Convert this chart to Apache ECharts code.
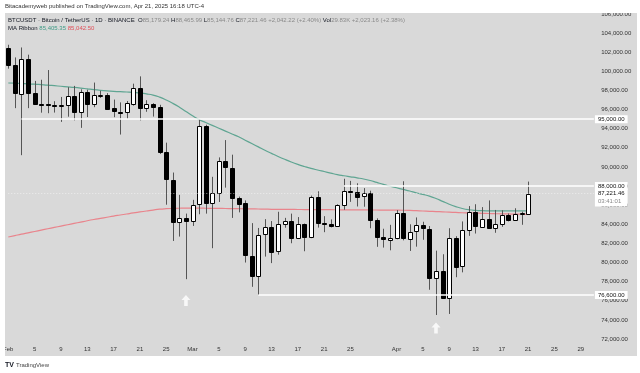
<!DOCTYPE html>
<html><head><meta charset="utf-8">
<script src="https://cdn.jsdelivr.net/npm/echarts@6/dist/echarts.min.js"></script>
<style>html,body{margin:0;padding:0;background:#fff}#c{width:640px;height:373px}</style>
</head><body><div id="c"></div>
<script>
// axis categories (days)
const categories = [
'2025-02-01','2025-02-02','2025-02-03','2025-02-04','2025-02-05','2025-02-06','2025-02-07','2025-02-08','2025-02-09','2025-02-10',
'2025-02-11','2025-02-12','2025-02-13','2025-02-14','2025-02-15','2025-02-16','2025-02-17','2025-02-18','2025-02-19','2025-02-20',
'2025-02-21','2025-02-22','2025-02-23','2025-02-24','2025-02-25','2025-02-26','2025-02-27','2025-02-28',
'2025-03-01','2025-03-02','2025-03-03','2025-03-04','2025-03-05','2025-03-06','2025-03-07','2025-03-08','2025-03-09','2025-03-10',
'2025-03-11','2025-03-12','2025-03-13','2025-03-14','2025-03-15','2025-03-16','2025-03-17','2025-03-18','2025-03-19','2025-03-20',
'2025-03-21','2025-03-22','2025-03-23','2025-03-24','2025-03-25','2025-03-26','2025-03-27','2025-03-28','2025-03-29','2025-03-30','2025-03-31',
'2025-04-01','2025-04-02','2025-04-03','2025-04-04','2025-04-05','2025-04-06','2025-04-07','2025-04-08','2025-04-09','2025-04-10',
'2025-04-11','2025-04-12','2025-04-13','2025-04-14','2025-04-15','2025-04-16','2025-04-17','2025-04-18','2025-04-19','2025-04-20',
'2025-04-21','2025-04-22','2025-04-23','2025-04-24','2025-04-25','2025-04-26','2025-04-27','2025-04-28','2025-04-29','2025-04-30','2025-05-01'];

const openP = [102429,100635,97700,101328,97763,96612,96554,96506,96444,96462,97430,95778,97869,96608,97500,97569,96118,95780,95671,96644,98305,96181,96554,96258,91552,88680,84250,84708,
84349,86064,94270,86221,87281,90606,89931,86801,86222,80735,78596,82932,83680,81116,83984,84343,82580,84075,82718,86855,84167,84043,83832,86055,87498,87392,86909,87232,84424,82649,82390,
82550,85158,82516,83213,83890,83537,78430,79163,76322,82615,79607,83424,85276,83760,84591,83643,84030,84947,84474,85057,85179];
const closeP = [100635,97700,101328,97763,96612,96554,96506,96444,96462,97430,95778,97869,96608,97500,97569,96118,95780,95671,96644,98305,96181,96554,96258,91552,88680,84250,84708,84349,
86064,94270,86221,87281,90606,89931,86801,86222,80734,78595,82932,83680,81116,83984,84343,82579,84075,82718,86854,84167,84043,83832,86054,87498,87392,86909,87232,84424,82649,82389,82550,
85158,82516,83213,83889,83537,78430,79163,76322,82615,79607,83423,85276,83760,84591,83643,84030,84947,84474,85057,85179,87221];
const highP = [102783,101456,102500,101744,99000,99120,100137,96880,97323,98345,98478,98119,98076,98826,97972,97725,97046,96753,96899,98711,99475,96980,96670,96500,92540,89414,87078,85120,
86558,95000,94416,88967,91000,92810,91283,86897,86500,84123,83617,84539,84336,85310,84672,85117,84756,84075,87000,87453,84850,84513,86094,88765,88542,88292,87786,87515,84624,83534,83943,
85487,88500,83998,84720,84266,83817,81243,80867,83588,82753,84300,85905,86100,85799,86496,85500,85470,85132,85677,85320,88466];
const lowP = [100279,96150,91231,96150,96587,95676,95620,95688,94713,95256,94876,94088,95217,96252,97223,96055,95205,93388,95029,96415,94871,95770,95270,91350,86050,82256,82716,78258,
83825,85050,85117,81500,86334,87836,84667,85248,80000,77459,76606,80620,79939,80822,83639,82018,82457,81179,82547,83655,83175,83675,83794,85519,86346,85862,85837,83585,81644,81565,81279,
82432,82320,81211,81659,82379,77153,74508,76239,74620,78464,78972,82792,83035,83678,83600,83111,83736,84303,84418,83949,85145];

// MA ribbon lines
const maFast = [98780,98760,98730,98700,98660,98610,98560,98500,98440,98380,98320,98250,98170,98090,98020,97960,97910,97870,97840,97800,97730,97640,97520,97300,97000,96650,96250,95800,
95350,94950,94650,94350,94050,93750,93450,93150,92800,92450,92100,91750,91420,91100,90800,90520,90270,90050,89850,89680,89520,89360,89200,89080,88970,88860,88740,88580,88380,88180,87990,
87820,87650,87480,87300,87130,86950,86700,86400,86100,85850,85650,85520,85450,85420,85410,85400,85400,85400,85400,85405,85405];
const maSlow = [82670,82820,82970,83110,83250,83390,83530,83670,83810,83950,84090,84230,84370,84500,84620,84740,84860,84970,85080,85190,85290,85390,85490,85580,85630,85660,85680,85690,
85690,85690,85680,85670,85660,85650,85640,85630,85620,85610,85600,85590,85570,85565,85560,85555,85550,85545,85540,85535,85530,85525,85520,85515,85510,85505,85500,85500,85495,85490,85485,
85480,85470,85450,85420,85390,85360,85330,85300,85270,85240,85210,85190,85170,85150,85130,85110,85095,85080,85065,85050,85042];

// drawn levels
const levelPrices = [95000, 88000, 76600];
const levelStarts = ['2025-02-03', '2025-03-24', '2025-03-11'];
const lastPrice = 87221.46;
const countdown = '03:41:01';

// arrows
const arrowDates = ['2025-02-28', '2025-04-07'];
const arrowPrices = [76030, 73150];

// time axis tick labels
const xTickDays = ['2025-02-01','2025-02-05','2025-02-09','2025-02-13','2025-02-17','2025-02-21','2025-02-25',
'2025-03-01','2025-03-05','2025-03-09','2025-03-13','2025-03-17','2025-03-21','2025-03-25',
'2025-04-01','2025-04-05','2025-04-09','2025-04-13','2025-04-17','2025-04-21','2025-04-25','2025-04-29'];
const xTickText = ['Feb','5','9','13','17','21','25','Mar','5','9','13','17','21','25','Apr','5','9','13','17','21','25','29'];

function fmt(v){
  const s = Number(v).toFixed(2).split('.');
  return s[0].replace(/\B(?=(\d{3})+$)/g, ',') + '.' + s[1];
}

const FONT = 'Liberation Sans';
const candleData = closeP.map((c, i) => [categories[i], openP[i], c, lowP[i], highP[i]]);
const lastDay = categories[categories.length - 1];

const levelLines = levelPrices.map((p, i) => [
  {coord: [levelStarts[i], p]},
  {coord: [lastDay, p], label: {formatter: fmt(p)}}
]);
levelLines.push([
  {coord: [categories[0], lastPrice], lineStyle: {color: 'rgba(255,255,255,0.55)', width: 1, type: [1, 2]}},
  {coord: [lastDay, lastPrice], label: {formatter: '{a|' + fmt(lastPrice) + '}\n{b|' + countdown + '}', offset: [0, 4]}}
]);

const chart = echarts.init(document.getElementById('c'), null, {renderer: 'canvas'});
chart.setOption({
  animation: false,
  backgroundColor: '#ffffff',
  textStyle: {fontFamily: FONT},
  grid: {left: 5, top: 14, width: 592.2, height: 325},
  xAxis: {
    type: 'category', data: categories, boundaryGap: true,
    axisLine: {show: false}, axisTick: {show: false}, splitLine: {show: false},
    axisLabel: {
      interval: (idx, val) => xTickDays.indexOf(val) >= 0,
      formatter: (val) => xTickText[xTickDays.indexOf(val)] || '',
      fontSize: 6, color: '#333', margin: 7, fontFamily: FONT, hideOverlap: false
    }
  },
  yAxis: {
    type: 'value', position: 'right', min: 72000, max: 106000, interval: 2000, scale: true,
    axisLine: {show: false}, axisTick: {show: false}, splitLine: {show: false},
    axisLabel: {formatter: fmt, fontSize: 6, color: '#333', margin: 4, fontFamily: FONT}
  },
  series: [
    {type: 'line', data: maSlow, smooth: true, showSymbol: false, z: 1,
     lineStyle: {color: '#e9848c', width: 1.2}},
    {type: 'line', data: maFast, smooth: true, showSymbol: false, z: 1,
     lineStyle: {color: '#5fa592', width: 1.2}},
    {type: 'custom', z: 3, data: candleData,
     encode: {x: 0, y: [1, 2, 3, 4]},
     renderItem: function (params, api) {
       const x = api.value(0);
       const o = api.value(1), c = api.value(2), l = api.value(3), h = api.value(4);
       const ph = api.coord([x, h]), pl = api.coord([x, l]);
       const po = api.coord([x, o]), pc = api.coord([x, c]);
       const cx = Math.round(ph[0]);
       const up = c >= o;
       const top = Math.min(po[1], pc[1]), bot = Math.max(po[1], pc[1]);
       return {type: 'group', children: [
         {type: 'line', shape: {x1: cx + 0.5, y1: ph[1], x2: cx + 0.5, y2: pl[1]}, style: {stroke: '#555', lineWidth: 1}},
         {type: 'rect', shape: {x: cx - 1.5, y: Math.round(top) + 0.5, width: 4, height: Math.max(Math.round(bot - top), 1)},
          style: {fill: up ? '#ffffff' : '#000000', stroke: '#000000', lineWidth: 1}}
       ]};
     }
    },
    {type: 'line', data: [], z: 5,
     markLine: {
       silent: true, symbol: ['none', 'none'], animation: false,
       lineStyle: {color: '#ffffff', width: 1.5, type: 'solid'},
       label: {show: true, position: 'end', distance: 1, backgroundColor: '#ffffff', color: '#111',
               fontSize: 6, fontFamily: FONT, padding: [1, 3, 1, 3],
               rich: {a: {fontSize: 6, color: '#111', fontFamily: FONT, lineHeight: 8},
                      b: {fontSize: 6, color: '#888', fontFamily: FONT, lineHeight: 8}}},
       data: levelLines
     }
    },
    {type: 'scatter', z: 6, data: arrowDates.map((d, i) => [d, arrowPrices[i]]),
     symbol: 'path://M5,0 L10,5 L7,5 L7,11 L3,11 L3,5 L0,5 Z', symbolSize: [9, 11],
     itemStyle: {color: '#ffffff'}}
  ],
  graphic: [
    {type: 'rect', z: -100, silent: true, shape: {x: 5, y: 13, width: 632, height: 343}, style: {fill: '#d9d9d9'}},
    {type: 'rect', z: 100, silent: true, shape: {x: 0, y: 0, width: 640, height: 13}, style: {fill: '#ffffff'}},
    {type: 'rect', z: 100, silent: true, shape: {x: 0, y: 0, width: 5, height: 373}, style: {fill: '#ffffff'}},
    {type: 'rect', z: 100, silent: true, shape: {x: 637, y: 0, width: 3, height: 373}, style: {fill: '#ffffff'}},
    {type: 'rect', z: 100, silent: true, shape: {x: 0, y: 356, width: 640, height: 17}, style: {fill: '#ffffff'}},
    {type: 'text', z: 101, silent: true, style: {x: 5, y: 6.5, text: 'Bitacademyweb published on TradingView.com, Apr 21, 2025 16:18 UTC-4',
      fill: '#333', font: '6px "Liberation Sans"', verticalAlign: 'middle'}},
    {type: 'text', z: 101, silent: true, style: {x: 8, y: 20,
      text: '{d|BTCUSDT · Bitcoin / TetherUS · 1D · BINANCE  O}{g|85,179.24 }{d|H}{g|88,465.99 }{d|L}{g|85,144.76 }{d|C}{g|87,221.46 +2,042.22 (+2.40%) }{d|Vol}{g|29.83K +2,023.16 (+2.38%)}',
      verticalAlign: 'middle', font: '6px "Liberation Sans"',
      rich: {d: {fill: '#131722', fontSize: 6, fontFamily: FONT}, g: {fill: '#8a8a8a', fontSize: 6, fontFamily: FONT}}}},
    {type: 'text', z: 101, silent: true, style: {x: 8, y: 28.5,
      text: '{d|MA Ribbon }{gr|85,405.35 }{r|85,042.50}',
      verticalAlign: 'middle', font: '6px "Liberation Sans"',
      rich: {d: {fill: '#131722', fontSize: 6, fontFamily: FONT}, gr: {fill: '#3f9a85', fontSize: 6, fontFamily: FONT}, r: {fill: '#e0505a', fontSize: 6, fontFamily: FONT}}}},
    {type: 'text', z: 101, silent: true, style: {x: 5, y: 365, text: 'TV', fill: '#131722', font: 'bold 7px "Liberation Sans"', verticalAlign: 'middle'}},
    {type: 'text', z: 101, silent: true, style: {x: 16, y: 365, text: 'TradingView', fill: '#444', font: '6px "Liberation Sans"', verticalAlign: 'middle'}}
  ]
});
</script></body></html>
